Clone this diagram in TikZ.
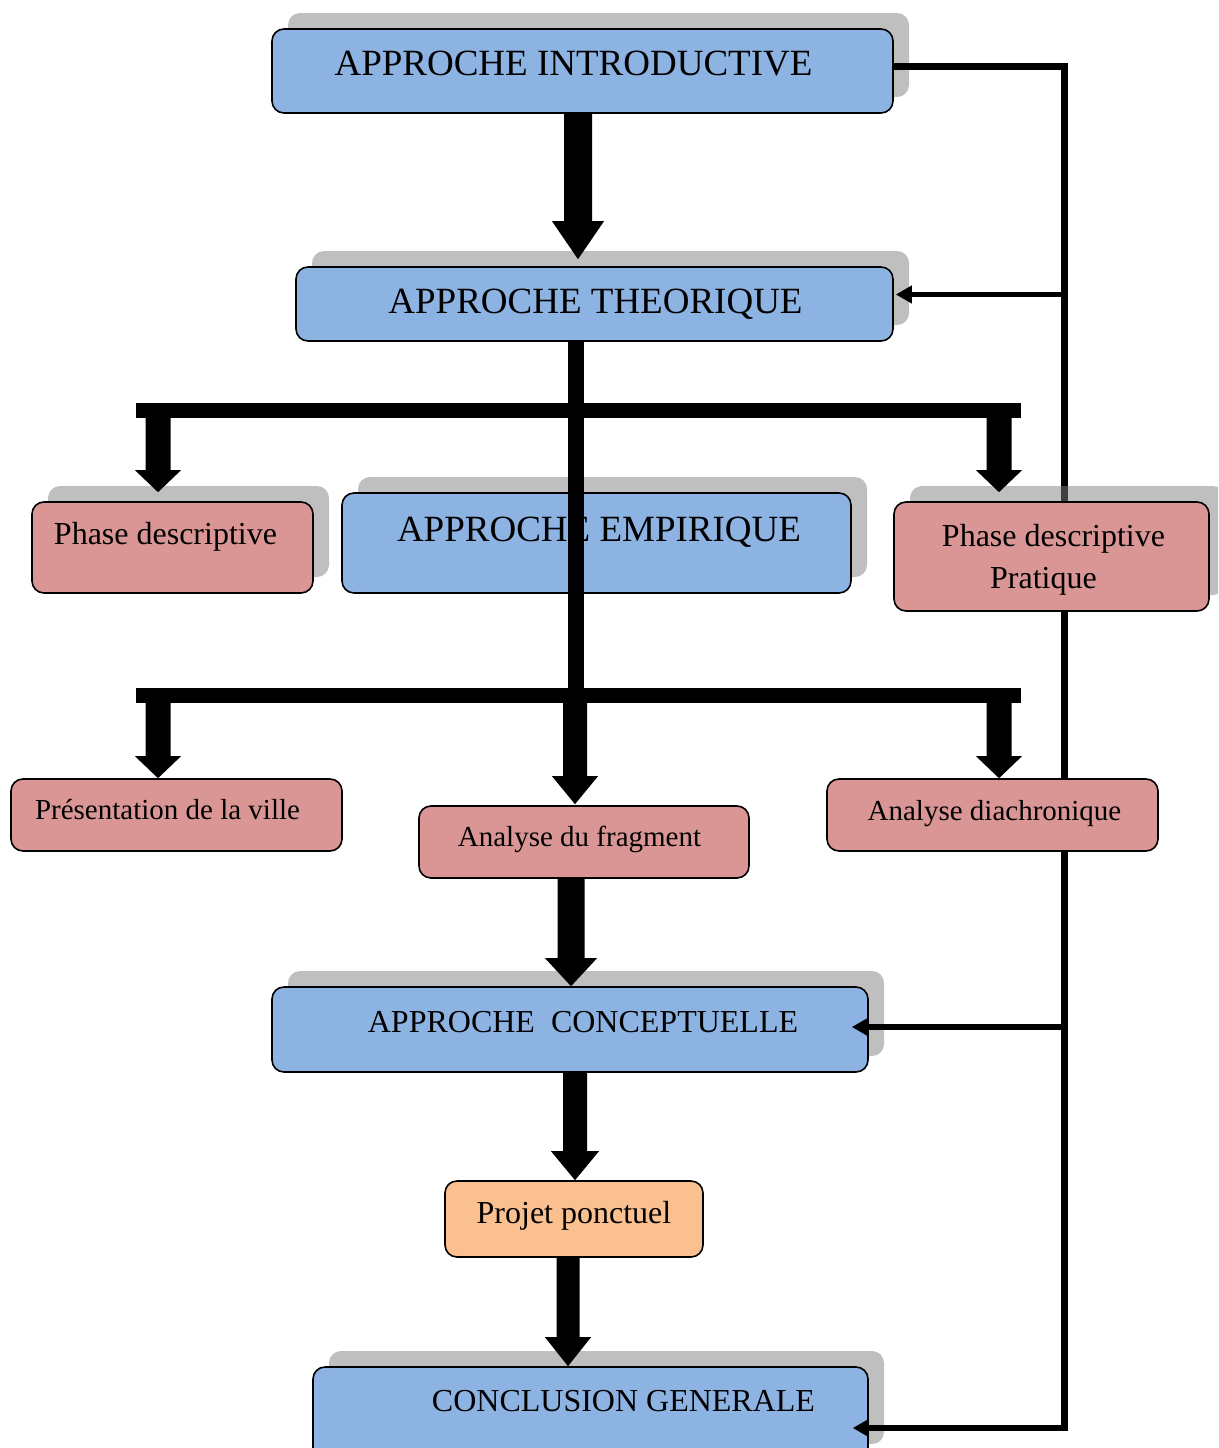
\documentclass[tikz,border=0pt]{standalone}
\usepackage{fontspec}
\setmainfont{Liberation Serif}
\usetikzlibrary{calc,arrows.meta,shadows}
\definecolor{bxblue}{HTML}{8DB3E2}
\definecolor{bxpink}{HTML}{D99694}
\definecolor{bxorange}{HTML}{FAC090}
\definecolor{shgray}{HTML}{808080}
\newcommand\szbig{\fontsize{37}{44}\selectfont}
\newcommand\szmid{\fontsize{32}{38}\selectfont}
\newcommand\szsmall{\fontsize{29}{35}\selectfont}
\tikzset{
  box/.style={draw=black, line width=1.6pt, rounded corners=12pt, inner sep=0pt},
  shbox/.style={box, general shadow={fill=shgray, fill opacity=0.5, draw=none,
      shadow xshift=16pt, shadow yshift=16pt}},
  txt/.style={anchor=base, inner sep=0pt},
  rail/.style={draw=black, line width=6.5pt, line join=miter},
  railarrow/.style={rail, line width=5.5pt, -{Triangle[length=16pt,width=17pt]}},
  bigarr/.style args={#1/#2/#3}{to path={let \p1=(\tikztostart), \p2=(\tikztotarget) in
      (\x1-#1/2,\y1) -- (\x1-#1/2,\y2+#3) -- (\x1-#2/2,\y2+#3) -- (\x1,\y2)
      -- (\x1+#2/2,\y2+#3) -- (\x1+#1/2,\y2+#3) -- (\x1+#1/2,\y1) -- cycle}},
  bar/.style={draw=black, line width=15pt}
}
\begin{document}
\begin{tikzpicture}[x=1pt,y=1pt]
\useasboundingbox (0,0) rectangle (1218,-1448);
\clip (0,0) rectangle (1218,-1448);
\fill[white] (0,0) rectangle (1218,-1448);

% right rail (under the boxes)
\coordinate (rtop) at (1064.5,-66.5);
\coordinate (rail2) at (1064.5,-294.5);
\coordinate (rail3) at (1064.5,-1027);
\coordinate (rbot) at (1064.5,-1428);
\draw[rail] (rtop) -- (rbot);

% boxes
\node[shbox, fill=bxblue, minimum width=621pt, minimum height=84pt] (intro) at (582.5,-71) {};
\node[shbox, fill=bxblue, minimum width=597pt, minimum height=74pt] (theo) at (594.5,-304) {};
\node[shbox, fill=bxpink, minimum width=281pt, minimum height=91pt] (phaseL) at (172.5,-547.5) {};
\node[shbox, fill=bxblue, minimum width=509pt, minimum height=100pt] (empir) at (596.5,-543) {};
\node[shbox, fill=bxpink, minimum width=315pt, minimum height=109pt] (phaseR) at (1051.5,-556.5) {};
\node[box, fill=bxpink, minimum width=331pt, minimum height=72pt] (pres) at (176.5,-815) {};
\node[box, fill=bxpink, minimum width=330pt, minimum height=72pt] (frag) at (584,-842) {};
\node[box, fill=bxpink, minimum width=331pt, minimum height=72pt] (diach) at (992.5,-815) {};
\node[shbox, fill=bxblue, minimum width=596pt, minimum height=85pt] (concept) at (570,-1029.5) {};
\node[box, fill=bxorange, minimum width=258pt, minimum height=76pt] (projet) at (574,-1219) {};
\node[shbox, fill=bxblue, minimum width=555pt, minimum height=93pt] (concl) at (590.5,-1413.5) {};

% texts
\node[txt, font=\szbig] (tintro) at (573.5,-75) {APPROCHE INTRODUCTIVE};
\node[txt, font=\szbig] (ttheo) at (595.5,-313) {APPROCHE THEORIQUE};
\node[txt, font=\szbig] (tempir) at (599,-541) {APPROCHE EMPIRIQUE};
\node[txt, font=\szmid] (tphaseL) at (165.5,-544) {Phase descriptive};
\node[txt, font=\szmid] (tphaseR1) at (1053.5,-546) {Phase descriptive};
\node[txt, font=\szmid] (tphaseR2) at (1043.5,-588) {Pratique};
\node[txt, font=\szsmall] (tpres) at (167.5,-819) {Présentation de la ville};
\node[txt, font=\szsmall] (tfrag) at (579.5,-846) {Analyse du fragment};
\node[txt, font=\szsmall] (tdiach) at (994.5,-820) {Analyse diachronique};
\node[txt, font=\szmid] (tconcept) at (583,-1032) {APPROCHE\ \ CONCEPTUELLE};
\node[txt, font=\szmid] (tprojet) at (574,-1223) {Projet ponctuel};
\node[txt, font=\szmid] (tconcl) at (623.5,-1411) {CONCLUSION GENERALE};

% thin connectors over the boxes
\draw[rail] (intro.east |- rtop) -- (rtop) -- (rail2);
\draw[railarrow] (rail2) -- ($(theo.east |- rail2)+(2,0)$);
\draw[railarrow] (rail3) -- ($(concept.east |- rail3)+(-17,0)$);
\draw[rail] (rail3) -- (rbot) -- ($(rbot)+(-30,0)$);
\draw[railarrow] (rbot) -- ($(concl.east |- rbot)+(-16,0)$);

% big arrows
\coordinate (a1s) at ($(intro.south)+(-4.5,0)$);
\fill[bigarr=28/52/38] (a1s) to ($(theo.north)+(0,7)$);

\coordinate (b1L) at (136,-410.5);
\coordinate (b1R) at (1021,-410.5);
\coordinate (b2L) at (136,-695.5);
\coordinate (b2R) at (1021,-695.5);
\coordinate (vtop) at ($(theo.south)+(-18.5,0)$);
\draw[line width=16pt] (vtop) -- (vtop |- b2L);
\draw[bar] (b1L) -- (b1R);
\draw[bar] (b2L) -- (b2R);

\coordinate (d1a) at (158,-410.5);
\coordinate (d1b) at (999,-410.5);
\fill[bigarr=25/46/22] (d1a) to ($(phaseL.north)+(0,9)$);
\fill[bigarr=25/46/22] (d1b) to ($(phaseR.north)+(0,9)$);

\coordinate (d2a) at (158,-695.5);
\coordinate (d2b) at (999,-695.5);
\coordinate (d2c) at (575,-695.5);
\fill[bigarr=25/46/22] (d2a) to (pres.north);
\fill[bigarr=25/46/22] (d2b) to (diach.north);
\fill[bigarr=24/46/28] (d2c) to ($(frag.north)+(0,1)$);

\coordinate (a5s) at ($(frag.south)+(-13,0)$);
\fill[bigarr=27/52/28] (a5s) to (concept.north);
\coordinate (a6s) at ($(concept.south)+(5,0)$);
\fill[bigarr=24/48/29] (a6s) to (projet.north);
\coordinate (a7s) at ($(projet.south)+(-6,0)$);
\fill[bigarr=23/46/29] (a7s) to (concl.north);
\end{tikzpicture}
\end{document}
